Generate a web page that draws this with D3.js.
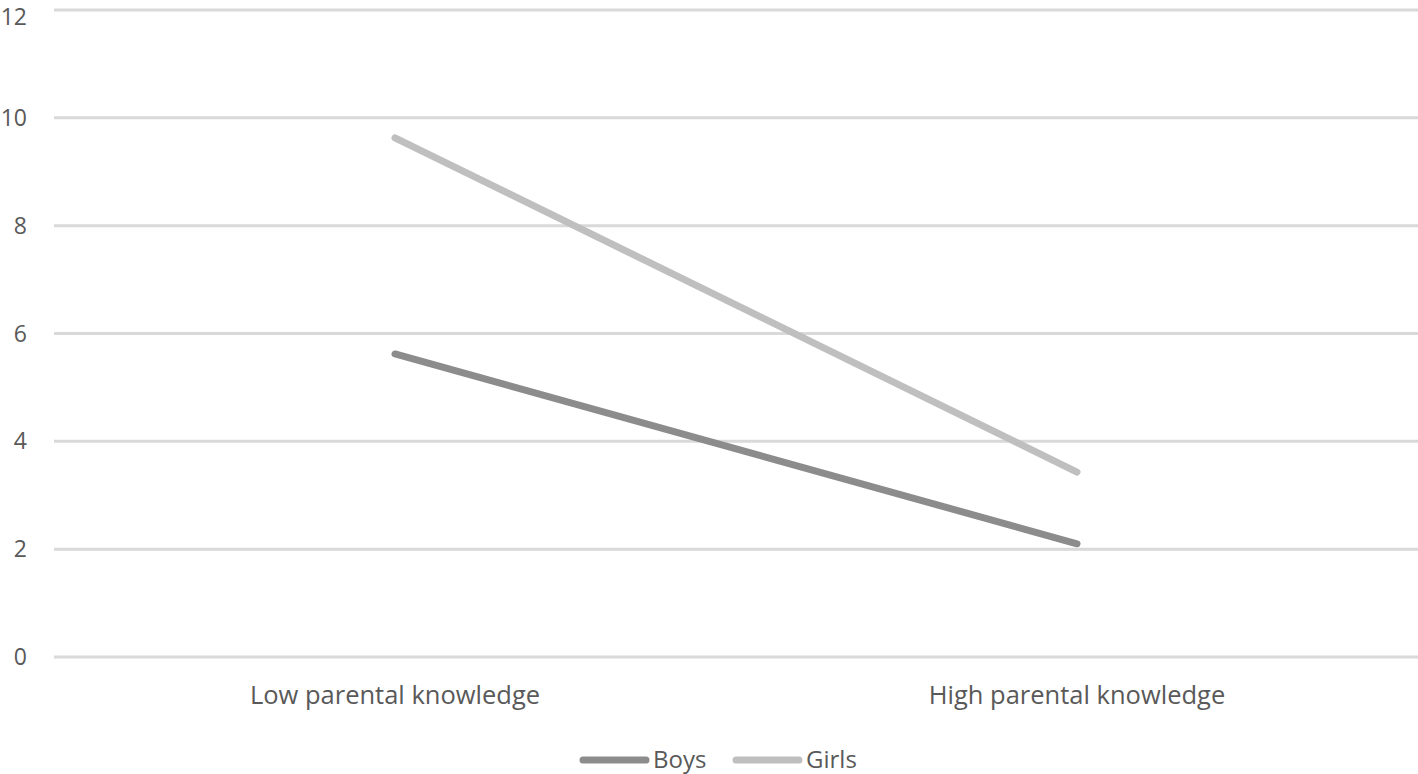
<!DOCTYPE html>
<html><head><meta charset="utf-8">
<script src="https://cdn.jsdelivr.net/npm/d3@7"></script>
<style>body{margin:0;background:#fff}svg{display:block}</style>
</head><body>
<svg id="c" width="1418" height="774"></svg>
<script>
const categories = ["Low parental knowledge", "High parental knowledge"];
const seriesNames = ["Boys", "Girls"];
const boys = [5.62, 2.10];
const girls = [9.63, 3.43];
const yTicks = [0, 2, 4, 6, 8, 10, 12];
const colors = ["#8c8c8c", "#bfbfbf"];

const svg = d3.select("#c");
const font = "'Open Sans', 'Noto Sans', sans-serif";
const x = d3.scaleBand().domain(categories).range([54, 1418]);
const y = d3.scaleLinear().domain([0, 12]).range([657, 10]);

svg.append("g").selectAll("line").data(yTicks).join("line")
  .attr("x1", 54).attr("x2", 1418)
  .attr("y1", d => y(d)).attr("y2", d => y(d))
  .attr("stroke", "#d9d9d9").attr("stroke-width", 3);

svg.append("g").selectAll("text").data(yTicks).join("text")
  .attr("x", 27).attr("y", d => Math.max(y(d), 17)).attr("dy", "0.35em")
  .attr("text-anchor", "end").attr("font-family", font).attr("font-size", 23)
  .attr("fill", "#595959").text(d => d);

svg.append("g").selectAll("text").data(categories).join("text")
  .attr("x", d => x(d) + x.bandwidth() / 2).attr("y", 695).attr("dy", "0.35em")
  .attr("text-anchor", "middle").attr("font-family", font).attr("font-size", 25.5)
  .attr("fill", "#595959").text(d => d);

const line = d3.line().x((d, i) => x(categories[i]) + x.bandwidth() / 2).y(d => y(d));
[boys, girls].forEach((s, i) => {
  svg.append("path").datum(s).attr("d", line).attr("fill", "none")
    .attr("stroke", colors[i]).attr("stroke-width", 7).attr("stroke-linecap", "round");
});

const legX = [583, 736];
seriesNames.forEach((n, i) => {
  svg.append("line").attr("x1", legX[i]).attr("x2", legX[i] + 63)
    .attr("y1", 760).attr("y2", 760).attr("stroke", colors[i])
    .attr("stroke-width", 7).attr("stroke-linecap", "round");
  svg.append("text").attr("x", legX[i] + 70).attr("y", 760).attr("dy", "0.35em")
    .attr("font-family", font).attr("font-size", 24).attr("fill", "#595959").text(n);
});
</script>
</body></html>
